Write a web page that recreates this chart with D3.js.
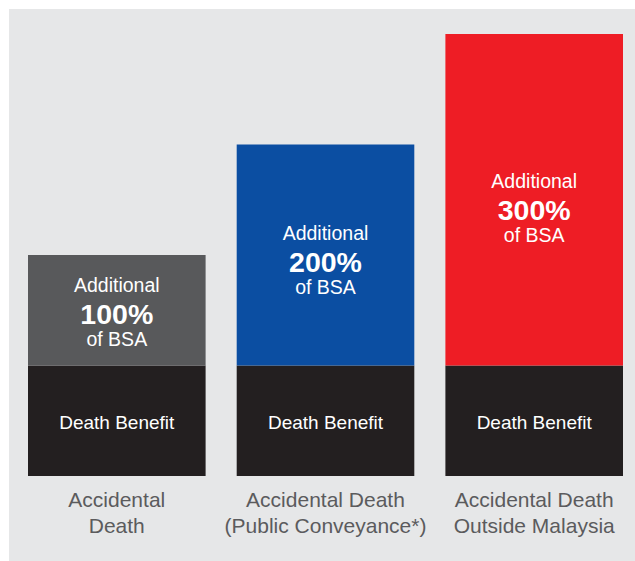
<!DOCTYPE html>
<html>
<head>
<meta charset="utf-8">
<script src="https://cdn.jsdelivr.net/npm/d3@7"></script>
<style>
  html, body { margin: 0; padding: 0; background: #ffffff; }
  svg { display: block; }
  text { font-family: "Liberation Sans", Arial, Helvetica, sans-serif; }
</style>
</head>
<body>
<div id="chart"></div>
<script>
// ---- data ----
const categories = [
  ["Accidental", "Death"],
  ["Accidental Death", "(Public Conveyance*)"],
  ["Accidental Death", "Outside Malaysia"]
];
const categoryKeys = ["Accidental Death", "Accidental Death (Public Conveyance*)", "Accidental Death Outside Malaysia"];
const baseValues = [1, 1, 1];            // Death Benefit
const additionalValues = [1, 2, 3];      // Additional % of BSA (in units of BSA)
const percentLabels = ["100%", "200%", "300%"];
const baseLabel = "Death Benefit";
const addTop = "Additional";
const addBottom = "of BSA";

// ---- styling ----
const W = 635, H = 561;
const colorsAdd = ["#58595b", "#0b4ea2", "#ee1d25"];
const colorBase = "#231f20";
const bg = "#e6e7e8";
const labelColor = "#5b5b5d";

const svg = d3.select("#chart").append("svg").attr("width", W).attr("height", H);

svg.append("rect").attr("x", 9).attr("y", 9).attr("width", W - 9).attr("height", H - 9).attr("fill", bg);

const x = d3.scaleBand().domain(categoryKeys).range([28, 623]).paddingInner(0.149).paddingOuter(0);
const y = d3.scaleLinear().domain([0, 4]).range([476, 34]);

const data = categoryKeys.map((k, i) => ({
  key: k, lines: categories[i], base: baseValues[i], add: additionalValues[i], pct: percentLabels[i], color: colorsAdd[i]
}));

const g = svg.selectAll("g.bar").data(data).enter().append("g").attr("class", "bar");

// base segment
g.append("rect")
  .attr("x", d => x(d.key))
  .attr("width", x.bandwidth())
  .attr("y", d => y(d.base))
  .attr("height", d => y(0) - y(d.base))
  .attr("fill", colorBase);

// additional segment
g.append("rect")
  .attr("x", d => x(d.key))
  .attr("width", x.bandwidth())
  .attr("y", d => y(d.base + d.add))
  .attr("height", d => y(d.base) - y(d.base + d.add))
  .attr("fill", d => d.color);

const cx = d => x(d.key) + x.bandwidth() / 2;

// base label
g.append("text")
  .attr("x", cx)
  .attr("y", d => (y(0) + y(d.base)) / 2 + 8)
  .attr("text-anchor", "middle")
  .attr("fill", "#ffffff")
  .attr("font-size", "19px")
  .text(baseLabel);

// additional labels: anchored at 47% of segment height above its base
const anchor = d => y(d.base) - 0.47 * (y(d.base) - y(d.base + d.add));
g.append("text")
  .attr("x", cx)
  .attr("y", d => anchor(d) - 22)
  .attr("text-anchor", "middle")
  .attr("fill", "#ffffff")
  .attr("font-size", "19.5px")
  .text(addTop);
g.append("text")
  .attr("x", cx)
  .attr("y", d => anchor(d) + 10.5)
  .attr("text-anchor", "middle")
  .attr("fill", "#ffffff")
  .attr("font-size", "28.5px")
  .attr("font-weight", "bold")
  .text(d => d.pct);
g.append("text")
  .attr("x", cx)
  .attr("y", d => anchor(d) + 32.5)
  .attr("text-anchor", "middle")
  .attr("fill", "#ffffff")
  .attr("font-size", "19.5px")
  .text(addBottom);

// category labels
const lab = g.append("text")
  .attr("text-anchor", "middle")
  .attr("fill", labelColor)
  .attr("font-size", "21px");
lab.selectAll("tspan").data(d => d.lines.map(l => ({ l, d }))).enter().append("tspan")
  .attr("x", o => cx(o.d))
  .attr("y", (o, i) => 507 + i * 26)
  .text(o => o.l);
</script>
</body>
</html>
